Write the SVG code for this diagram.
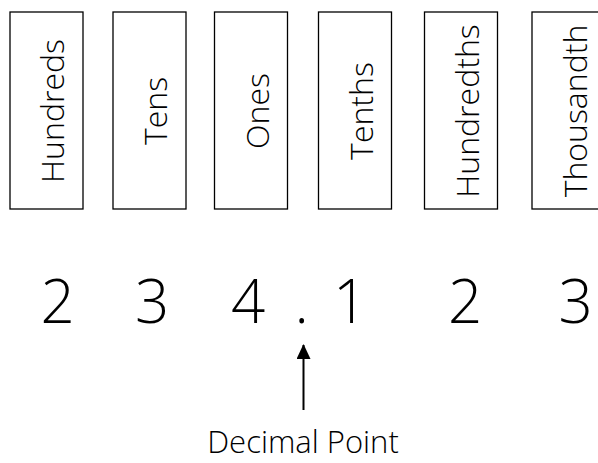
<svg xmlns="http://www.w3.org/2000/svg" width="598" height="463" viewBox="0 0 598 463">
<style>
.box{fill:#fff;stroke:#000;stroke-width:1.3}
.lbl{font-family:"Open Sans","Liberation Sans",sans-serif;font-weight:300;font-size:32px;fill:#000;text-anchor:middle}
.dig{font-family:"Open Sans","Liberation Sans",sans-serif;font-weight:300;font-size:60px;fill:#000;text-anchor:middle}
.cap{font-family:"Open Sans","Liberation Sans",sans-serif;font-weight:300;font-size:31px;fill:#000;text-anchor:middle}
</style>
<defs>
<marker id="ah" markerWidth="15" markerHeight="14" refX="14" refY="7" orient="auto" markerUnits="userSpaceOnUse">
<path d="M0,0 L15,7 L0,14 Z" fill="#000"/>
</marker>
</defs>
<rect width="598" height="463" fill="#fff"/>
<g id="hundreds"><rect class="box" x="10" y="12" width="73" height="197"/><text class="lbl" x="64" y="111" transform="rotate(-90 64 111)">Hundreds</text></g>
<g id="tens"><rect class="box" x="113" y="12" width="73" height="197"/><text class="lbl" x="167" y="111" transform="rotate(-90 167 111)">Tens</text></g>
<g id="ones"><rect class="box" x="214.5" y="12" width="73" height="197"/><text class="lbl" x="268.5" y="111" transform="rotate(-90 268.5 111)">Ones</text></g>
<g id="tenths"><rect class="box" x="318.5" y="12" width="73" height="197"/><text class="lbl" x="372.5" y="111" transform="rotate(-90 372.5 111)">Tenths</text></g>
<g id="hundredths"><rect class="box" x="424.5" y="12" width="73" height="197"/><text class="lbl" x="478.5" y="111" transform="rotate(-90 478.5 111)">Hundredths</text></g>
<g id="thousandth"><rect class="box" x="532" y="12" width="73" height="197"/><text class="lbl" x="586.5" y="111" transform="rotate(-90 586.5 111)">Thousandth</text></g>
<g id="number">
<text class="dig" x="57.5" y="323">2</text>
<text class="dig" x="152" y="323">3</text>
<text class="dig" x="248" y="323">4</text>
<text class="dig" x="301.7" y="323">.</text>
<text class="dig" x="350" y="323">1</text>
<text class="dig" x="465" y="323">2</text>
<text class="dig" x="575.5" y="323">3</text>
</g>
<g id="connectors">
<line x1="303.5" y1="410" x2="303.5" y2="345" stroke="#000" stroke-width="2" marker-end="url(#ah)"/>
</g>
<g id="decimal-point-label"><text class="cap" x="303" y="453">Decimal Point</text></g>
</svg>
